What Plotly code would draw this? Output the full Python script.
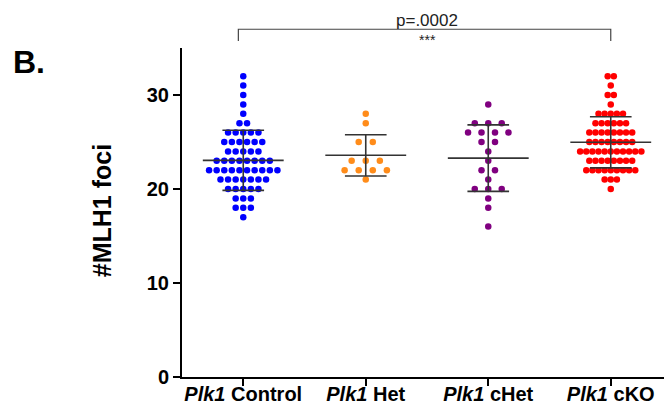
import numpy as np
import plotly.graph_objects as go

# ---- data ----
categories = ["Plk1 Control", "Plk1 Het", "Plk1 cHet", "Plk1 cKO"]
tick_labels = ["<b><i>Plk1</i> Control</b>", "<b><i>Plk1</i> Het</b>",
               "<b><i>Plk1</i> cHet</b>", "<b><i>Plk1</i> cKO</b>"]

# value -> count of cells
control_vals = [32, 31, 30, 29, 28] + [27]*2 + [26]*5 + [25]*6 + [24]*5 + [23]*8 + \
               [22]*10 + [21]*7 + [20]*5 + [19]*3 + [18]*3 + [17]
het_vals = [28, 27] + [25]*2 + [23]*3 + [22]*4 + [21]
chet_vals = [29] + [27]*3 + [26]*4 + [25]*2 + [24] + [23] + [22]*2 + [21] + [20]*3 + [19] + [18] + [16]
cko_vals = [32]*2 + [31] + [30]*2 + [29] + [28]*5 + [27]*6 + [26]*8 + [25]*8 + [24]*11 + \
           [23]*8 + [22]*9 + [21]*3 + [20]

series = [control_vals, het_vals, chet_vals, cko_vals]
colors = ["#0000FF", "#FF8C1A", "#800080", "#FF0000"]
steps = [0.062, 0.115, 0.11, 0.05]

p_text = "p=.0002"
star_text = "***"

FONT = "Liberation Sans, Arial, sans-serif"

fig = go.Figure()

for i, (vals, col, step) in enumerate(zip(series, colors, steps)):
    vals = np.array(vals, dtype=float)
    xs, ys = [], []
    for v in sorted(set(vals), reverse=True):
        n = int((vals == v).sum())
        for k in range(n):
            xs.append(i + (k - (n - 1) / 2) * step)
            ys.append(v)
    fig.add_trace(go.Scatter(x=xs, y=ys, mode="markers",
                             marker=dict(color=col, size=6.5, line=dict(width=0)),
                             showlegend=False, hoverinfo="y"))

line_col = "#333333"
for i, vals in enumerate(series):
    vals = np.array(vals, dtype=float)
    m = vals.mean()
    sd = vals.std(ddof=1)
    lw = 1.6
    fig.add_trace(go.Scatter(x=[i - 0.33, i + 0.33], y=[m, m], mode="lines",
                             line=dict(color=line_col, width=lw), showlegend=False, hoverinfo="skip"))
    fig.add_trace(go.Scatter(x=[i, i], y=[m - sd, m + sd], mode="lines",
                             line=dict(color=line_col, width=lw), showlegend=False, hoverinfo="skip"))
    for yv in (m - sd, m + sd):
        fig.add_trace(go.Scatter(x=[i - 0.17, i + 0.17], y=[yv, yv], mode="lines",
                                 line=dict(color=line_col, width=lw), showlegend=False, hoverinfo="skip"))

# significance bracket (Control vs cKO)
br_top, br_bot = 1.057, 1.021
fig.add_shape(type="path", xref="x", yref="paper",
              path=f"M -0.04,{br_bot} L -0.04,{br_top} L 3,{br_top} L 3,{br_bot}",
              line=dict(color="#444444", width=1.2))

fig.add_annotation(x=1.5, y=br_top, xref="x", yref="paper", text=p_text, showarrow=False,
                   yanchor="bottom", font=dict(family=FONT, size=17, color="#222"), yshift=-3)
fig.add_annotation(x=1.5, y=br_top, xref="x", yref="paper", text=star_text, showarrow=False,
                   yanchor="top", font=dict(family=FONT, size=14, color="#222"), yshift=-1)

# y title
fig.add_annotation(x=-0.166, y=0.507, xref="paper", yref="paper", text="<b>#MLH1 foci</b>",
                   textangle=-90, showarrow=False, xanchor="center", yanchor="middle",
                   font=dict(family=FONT, size=25, color="black"))
# panel label
fig.add_annotation(x=-0.317, y=0.957, xref="paper", yref="paper", text="<b>B.</b>",
                   showarrow=False, xanchor="center", yanchor="middle",
                   font=dict(family=FONT, size=32, color="black"))

fig.update_layout(
    width=664, height=412,
    margin=dict(l=182, r=0, t=48, b=35),
    paper_bgcolor="white", plot_bgcolor="white",
    font=dict(family=FONT, color="black"),
    xaxis=dict(range=[-0.5, -0.5 + 482 / 122.5], tickmode="array", tickvals=[0, 1, 2, 3],
               ticktext=tick_labels, showgrid=False, zeroline=False,
               showline=True, linecolor="black", linewidth=2,
               ticks="outside", ticklen=7, tickwidth=2, tickcolor="black",
               ticklabelstandoff=-9,
               tickfont=dict(family=FONT, size=20, color="black")),
    yaxis=dict(range=[0, 35], tickmode="array", tickvals=[0, 10, 20, 30],
               ticktext=["<b>0</b>", "<b>10</b>", "<b>20</b>", "<b>30</b>"],
               showgrid=False, zeroline=False,
               showline=True, linecolor="black", linewidth=2,
               ticks="outside", ticklen=7, tickwidth=2, tickcolor="black",
               tickfont=dict(family=FONT, size=20, color="black")),
)

fig.write_html("out.html")
